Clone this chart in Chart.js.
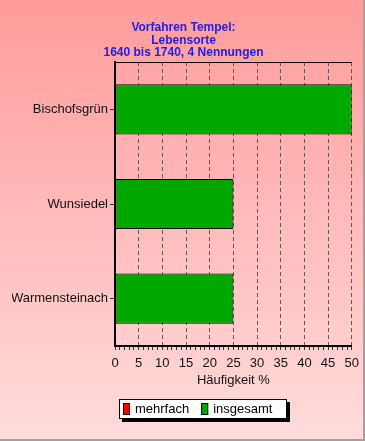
<!DOCTYPE html>
<html>
<head>
<meta charset="utf-8">
<script src="https://cdn.jsdelivr.net/npm/chart.js@4/dist/chart.umd.min.js"></script>
<style>
  html, body { margin: 0; padding: 0; }
  #wrap { width: 365px; height: 441px; position: relative; }
</style>
</head>
<body>
<div id="wrap"><canvas id="chart" width="365" height="441"></canvas></div>
<script>
// Chart data
const titleLines = ['Vorfahren Tempel:', 'Lebensorte', '1640 bis 1740, 4 Nennungen'];
const places = ['Bischofsgrün', 'Wunsiedel', 'Warmensteinach'];
const mehrfach = [0, 0, 0];
const insgesamt = [50, 25, 25];
const axisTitle = 'Häufigkeit %';
const xMin = 0;
const xMax = 50;

const FONT = "'Liberation Sans', Arial, sans-serif";

// Pink gradient background with a thin frame
const backgroundPlugin = {
  id: 'background',
  beforeDraw(chart) {
    const { ctx, width, height } = chart;
    const grad = ctx.createLinearGradient(0, 0, 0, height);
    grad.addColorStop(0, '#ff9b9b');
    grad.addColorStop(1, '#ffdcdc');
    ctx.save();
    ctx.fillStyle = grad;
    ctx.fillRect(0, 0, width, height);
    ctx.strokeStyle = '#a0a0a0';
    ctx.lineWidth = 2;
    ctx.beginPath();
    ctx.moveTo(width - 1, 0);
    ctx.lineTo(width - 1, height - 1);
    ctx.lineTo(0, height - 1);
    ctx.stroke();
    ctx.restore();
  }
};

// Top edge of the plot frame
const frameTopPlugin = {
  id: 'frameTop',
  afterDatasetsDraw(chart) {
    const { ctx, chartArea } = chart;
    ctx.save();
    ctx.strokeStyle = '#000';
    ctx.lineWidth = 1;
    ctx.beginPath();
    ctx.moveTo(chartArea.left, chartArea.top + 0.5);
    ctx.lineTo(chartArea.right, chartArea.top + 0.5);
    ctx.stroke();
    ctx.restore();
  }
};

// Boxed legend with drop shadow
const boxLegendPlugin = {
  id: 'boxLegend',
  afterDraw(chart) {
    const { ctx } = chart;
    const x0 = 119, y0 = 399, w = 168, h = 20;
    ctx.save();
    ctx.fillStyle = '#000';
    ctx.fillRect(x0 + 3, y0 + 3, w, h);
    ctx.fillStyle = '#fff';
    ctx.fillRect(x0, y0, w, h);
    ctx.strokeStyle = '#000';
    ctx.lineWidth = 1;
    ctx.strokeRect(x0 + 0.5, y0 + 0.5, w - 1, h - 1);

    ctx.font = '13px ' + FONT;
    ctx.textBaseline = 'middle';
    let x = x0 + 4;
    chart.data.datasets.forEach(ds => {
      ctx.fillStyle = ds.backgroundColor;
      ctx.fillRect(x, y0 + 4, 7, 12);
      ctx.strokeStyle = '#000';
      ctx.strokeRect(x + 0.5, y0 + 4.5, 6, 11);
      ctx.fillStyle = '#000';
      ctx.fillText(ds.label, x + 12, y0 + h / 2 + 0.5);
      x += 12 + ctx.measureText(ds.label).width + 12;
    });
    ctx.restore();
  }
};

new Chart(document.getElementById('chart'), {
  type: 'bar',
  data: {
    labels: places,
    datasets: [
      {
        label: 'mehrfach',
        data: mehrfach,
        backgroundColor: '#ff0000',
        borderColor: '#000',
        borderWidth: 1,
        grouped: false,
        categoryPercentage: 1,
        barPercentage: 0.53
      },
      {
        label: 'insgesamt',
        data: insgesamt,
        backgroundColor: '#00a800',
        borderColor: '#000',
        borderWidth: 1,
        borderSkipped: false,
        grouped: false,
        categoryPercentage: 1,
        barPercentage: 0.53
      }
    ]
  },
  options: {
    indexAxis: 'y',
    responsive: false,
    animation: false,
    layout: { padding: { left: 12, right: 10, top: 0, bottom: 53 } },
    plugins: {
      legend: { display: false },
      tooltip: { enabled: false },
      title: {
        display: true,
        text: titleLines,
        color: '#2020e8',
        font: { family: FONT, size: 12, weight: 'bold', lineHeight: 1.07 },
        padding: { top: 21, bottom: 2.5 }
      }
    },
    scales: {
      x: {
        type: 'linear',
        min: xMin,
        max: xMax,
        afterFit(scale) { scale.height = 42; },
        ticks: {
          stepSize: 1,
          autoSkip: false,
          maxRotation: 0,
          padding: 6,
          color: '#111',
          font: { family: FONT, size: 13 },
          callback: v => (v % 5 === 0 ? String(v) : '')
        },
        grid: {
          color: ctx => (ctx.tick && ctx.tick.value % 5 === 0 && ctx.tick.value > 0 ? '#6a5555' : 'transparent'),
          tickColor: '#333',
          tickLength: 4,
          lineWidth: 1
        },
        border: { display: true, color: '#000', width: 2, dash: [4, 3], z: 1 },
        title: {
          display: true,
          text: axisTitle,
          color: '#111',
          font: { family: FONT, size: 13 },
          padding: { top: 0, bottom: 0 }
        }
      },
      y: {
        afterFit(scale) { scale.width = 103; },
        ticks: {
          color: '#111',
          padding: 2,
          font: { family: FONT, size: 13 }
        },
        grid: {
          offset: false,
          drawOnChartArea: false,
          tickColor: '#333',
          tickLength: 5
        },
        border: { display: true, color: '#000', width: 2, z: 1 }
      }
    }
  },
  plugins: [backgroundPlugin, frameTopPlugin, boxLegendPlugin]
});
</script>
</body>
</html>
